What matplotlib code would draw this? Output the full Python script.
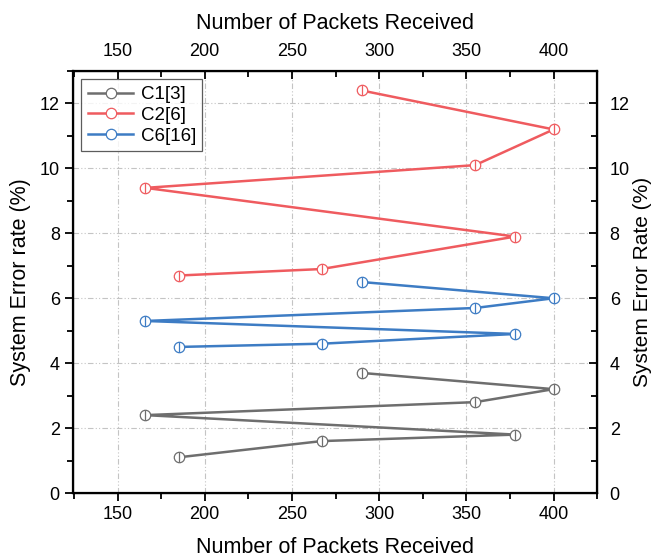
import matplotlib
matplotlib.use("Agg")
import matplotlib.pyplot as plt
from matplotlib.ticker import MultipleLocator

plt.rcParams["font.family"] = ["Liberation Sans", "DejaVu Sans"]

packets = [185, 267, 378, 166, 355, 400, 290]
c1 = [1.1, 1.6, 1.8, 2.4, 2.8, 3.2, 3.7]
c2 = [6.7, 6.9, 7.9, 9.4, 10.1, 11.2, 12.4]
c6 = [4.5, 4.6, 4.9, 5.3, 5.7, 6.0, 6.5]
labels = ["C1[3]", "C2[6]", "C6[16]"]
colors = ["#6e6e6e", "#ef5b5f", "#3d7cc4"]

fig = plt.figure(figsize=(6.52, 5.59), dpi=100)
ax = fig.add_axes([0.112, 0.118, 0.804, 0.755])

for ys, lab, col in zip([c1, c2, c6], labels, colors):
    ax.plot(packets, ys, "-", color=col, lw=1.8, marker="o", ms=7.5,
            mfc="white", mec=col, mew=0.9, label=lab, zorder=3)
    ax.plot(packets, ys, "none", marker="|", ms=7.5, mec=col, mew=0.9, zorder=4)

ax.set_xlim(124.5, 425)
ax.set_ylim(0, 13)
ax.xaxis.set_major_locator(MultipleLocator(50))
ax.xaxis.set_minor_locator(MultipleLocator(25))
ax.yaxis.set_major_locator(MultipleLocator(2))
ax.yaxis.set_minor_locator(MultipleLocator(1))
ax.grid(True, which="major", color="#c4c4c4", ls=(0, (5, 2, 1, 2, 1, 2)), lw=0.8)
ax.tick_params(which="major", direction="out", length=6, width=1.3, labelsize=13)
ax.tick_params(which="minor", direction="out", length=4, width=1.3)
for s in ax.spines.values():
    s.set_linewidth(1.6)
ax.set_xlabel("Number of Packets Received", fontsize=15.5, labelpad=10)
ax.set_ylabel("System Error rate (%)", fontsize=15.5, labelpad=6)

top = ax.twiny()
top.set_xlim(ax.get_xlim())
top.xaxis.set_major_locator(MultipleLocator(50))
top.xaxis.set_minor_locator(MultipleLocator(25))
top.tick_params(which="major", direction="in", length=6, width=1.3, labelsize=13, pad=8)
top.tick_params(which="minor", direction="in", length=4, width=1.3)
top.set_xlabel("Number of Packets Received", fontsize=15.5, labelpad=10)

right = ax.twinx()
right.set_ylim(ax.get_ylim())
right.yaxis.set_major_locator(MultipleLocator(2))
right.yaxis.set_minor_locator(MultipleLocator(1))
right.tick_params(which="major", direction="in", length=6, width=1.3, labelsize=13, pad=9)
right.tick_params(which="minor", direction="in", length=4, width=1.3)
right.set_ylabel("System Error Rate (%)", fontsize=15)
right.yaxis.set_label_coords(1.068, 0.5)

leg = ax.legend(loc="upper left", fontsize=13.5, frameon=True, fancybox=False,
                edgecolor="#333333", handlelength=2.4, borderaxespad=0.45,
                labelspacing=0.2, handletextpad=0.4, borderpad=0.35)
leg.get_frame().set_linewidth(0.9)

fig.savefig("out.png", dpi=100)
